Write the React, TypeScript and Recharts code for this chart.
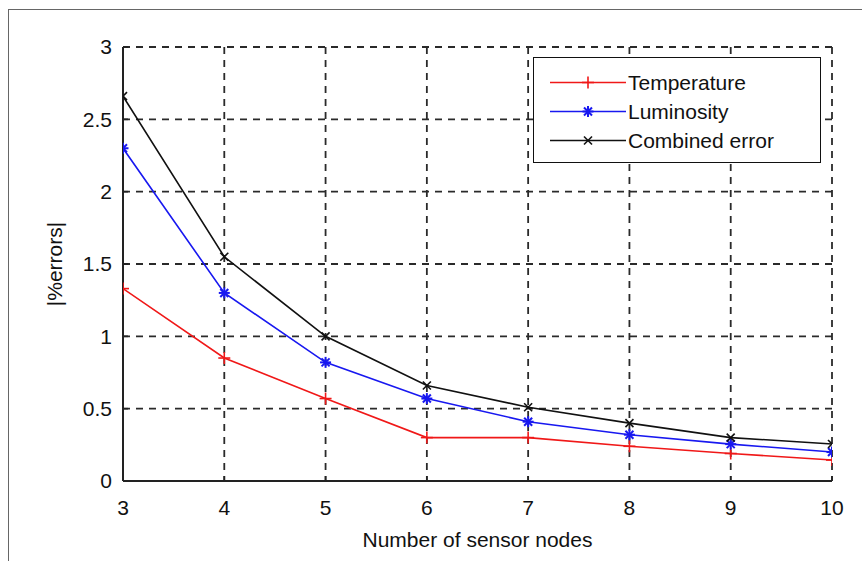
import React from 'react';
import { LineChart, Line, XAxis, YAxis, CartesianGrid, Legend } from 'recharts';

const nodes = [3, 4, 5, 6, 7, 8, 9, 10];
const temperature = [1.33, 0.85, 0.57, 0.3, 0.3, 0.24, 0.19, 0.145];
const luminosity = [2.3, 1.3, 0.82, 0.57, 0.41, 0.32, 0.255, 0.2];
const combined = [2.66, 1.55, 1.0, 0.66, 0.51, 0.4, 0.3, 0.256];
const xTicks = [3, 4, 5, 6, 7, 8, 9, 10];
const yTicks = [0, 0.5, 1, 1.5, 2, 2.5, 3];

const seriesNames = ['Temperature', 'Luminosity', 'Combined error'];
const seriesKeys = ['temperature', 'luminosity', 'combined'];
const seriesColors = ['#f01818', '#1818f0', '#111111'];
const seriesMarkers = ['plus', 'star', 'x'];

const data = nodes.map((n, i) => ({
  n,
  temperature: temperature[i],
  luminosity: luminosity[i],
  combined: combined[i],
}));

const FONT = 'Arial, "Liberation Sans", Helvetica, sans-serif';
const FS = 21;

function Marker({ cx, cy, kind, color }: { cx: number; cy: number; kind: string; color: string }) {
  const sw = 1.6;
  if (kind === 'plus') {
    const h = 6;
    return (
      <g stroke={color} strokeWidth={sw}>
        <line x1={cx - h} y1={cy} x2={cx + h} y2={cy} />
        <line x1={cx} y1={cy - h} x2={cx} y2={cy + h} />
      </g>
    );
  }
  if (kind === 'star') {
    const h = 5.5;
    const d = 4;
    return (
      <g stroke={color} strokeWidth={2}>
        <line x1={cx - h} y1={cy} x2={cx + h} y2={cy} />
        <line x1={cx} y1={cy - h} x2={cx} y2={cy + h} />
        <line x1={cx - d} y1={cy - d} x2={cx + d} y2={cy + d} />
        <line x1={cx - d} y1={cy + d} x2={cx + d} y2={cy - d} />
      </g>
    );
  }
  const d = 4;
  return (
    <g stroke={color} strokeWidth={sw}>
      <line x1={cx - d} y1={cy - d} x2={cx + d} y2={cy + d} />
      <line x1={cx - d} y1={cy + d} x2={cx + d} y2={cy - d} />
    </g>
  );
}

const makeDot = (kind: string, color: string) => (props: any) => {
  const { cx, cy, index } = props;
  if (cx == null || cy == null) return <g key={`d-${kind}-${index}`} />;
  return (
    <g key={`d-${kind}-${index}`}>
      <Marker cx={cx} cy={cy} kind={kind} color={color} />
    </g>
  );
};

function LegendBox() {
  return (
    <div
      style={{
        position: 'relative',
        width: 286,
        height: 104,
        border: '1.5px solid #111',
        background: '#fff',
        boxSizing: 'content-box',
        fontFamily: FONT,
        fontSize: FS,
        color: '#111',
      }}
    >
      {seriesNames.map((name, i) => (
        <div
          key={name}
          style={{
            position: 'absolute',
            left: 0,
            top: 10 + i * 29,
            height: 29,
            display: 'flex',
            alignItems: 'center',
          }}
        >
          <svg width={94} height={29} style={{ display: 'block' }}>
            <line x1={16} y1={14.5} x2={92} y2={14.5} stroke={seriesColors[i]} strokeWidth={1.6} />
            <Marker cx={54} cy={14.5} kind={seriesMarkers[i]} color={seriesColors[i]} />
          </svg>
          <span style={{ whiteSpace: 'nowrap', lineHeight: '29px' }}>{name}</span>
        </div>
      ))}
    </div>
  );
}

export default function App() {
  const tickStyle = { fontFamily: FONT, fontSize: FS, fill: '#111' };
  const axisLine = { stroke: '#222', strokeWidth: 2 };
  const tickLine = { stroke: '#222', strokeWidth: 1.6 };
  return (
    <div style={{ position: 'relative', width: 862, height: 561, background: '#fff', overflow: 'hidden' }}>
      <style>{`html,body{margin:0;padding:0;overflow:hidden;background:#fff}`}</style>
      <div
        style={{
          position: 'absolute',
          left: 8,
          top: 9,
          width: 900,
          height: 600,
          borderTop: '1.5px solid #666',
          borderLeft: '1.5px solid #666',
        }}
      />
      <div style={{ position: 'absolute', left: 0, top: 0 }}>
        <LineChart
          width={862}
          height={561}
          data={data}
          margin={{ top: 47, right: 30, bottom: 0, left: 0 }}
          style={{ fontFamily: FONT }}
        >
          <CartesianGrid stroke="#2a2a2a" strokeWidth={1.8} strokeDasharray="7 6" />
          <XAxis
            dataKey="n"
            type="number"
            domain={[3, 10]}
            ticks={xTicks}
            allowDataOverflow
            height={80}
            tickSize={-5}
            tickMargin={24}
            axisLine={axisLine}
            tickLine={tickLine}
            tick={tickStyle}
            label={{
              value: 'Number of sensor nodes',
              position: 'insideBottom',
              offset: 14,
              style: { fontFamily: FONT, fontSize: FS, fill: '#111' },
            }}
          />
          <XAxis
            xAxisId="top"
            orientation="top"
            dataKey="n"
            type="number"
            domain={[3, 10]}
            ticks={xTicks}
            allowDataOverflow
            height={0}
            tickSize={-5}
            tick={false}
            axisLine={axisLine}
            tickLine={tickLine}
          />
          <YAxis
            type="number"
            domain={[0, 3]}
            ticks={yTicks}
            allowDataOverflow
            width={123}
            tickSize={-5}
            tickMargin={16}
            axisLine={axisLine}
            tickLine={tickLine}
            tick={tickStyle}
            label={{
              value: '|%errors|',
              angle: -90,
              position: 'insideLeft',
              offset: 55,
              style: { fontFamily: FONT, fontSize: FS, fill: '#111', textAnchor: 'middle' },
            }}
          />
          <YAxis
            yAxisId="right"
            orientation="right"
            type="number"
            domain={[0, 3]}
            ticks={yTicks}
            allowDataOverflow
            width={0}
            tickSize={-5}
            tick={false}
            axisLine={axisLine}
            tickLine={tickLine}
          />
          {seriesKeys.map((k, i) => (
            <Line
              key={k}
              dataKey={k}
              name={seriesNames[i]}
              type="linear"
              stroke={seriesColors[i]}
              strokeWidth={1.6}
              dot={makeDot(seriesMarkers[i], seriesColors[i])}
              activeDot={false}
              isAnimationActive={false}
            />
          ))}
          <Legend
            layout="horizontal"
            align="center"
            verticalAlign="middle"
            content={() => <LegendBox />}
            wrapperStyle={{ position: 'absolute', left: 533, top: 57, width: 289, height: 107 }}
          />
        </LineChart>
      </div>
    </div>
  );
}
